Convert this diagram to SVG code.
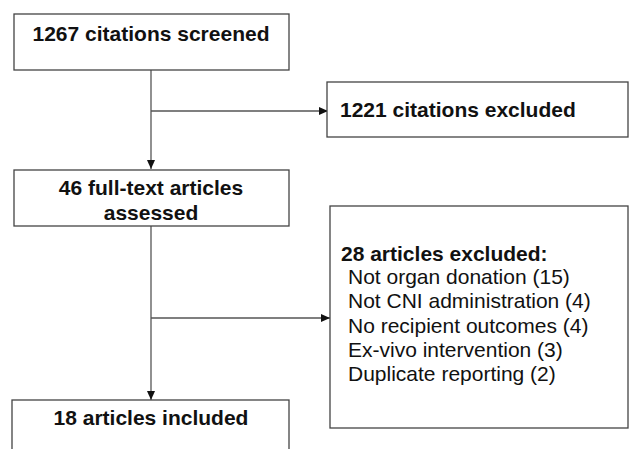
<svg xmlns="http://www.w3.org/2000/svg" width="631" height="449" viewBox="0 0 631 449">
<defs>
<marker id="ah" markerWidth="10" markerHeight="8" refX="9" refY="4" orient="auto" markerUnits="userSpaceOnUse">
<path d="M0,0 L9,4 L0,8 Z" fill="#111"/>
</marker>
<style>
.box{fill:#fff;stroke:#444;stroke-width:1.3}
.ln{fill:none;stroke:#555;stroke-width:1.3}
.b{font-family:"Liberation Sans",Arial,sans-serif;font-size:21px;font-weight:bold;fill:#111}
.r{font-family:"Liberation Sans",Arial,sans-serif;font-size:21px;fill:#111}
</style>
</defs>
<rect width="631" height="449" fill="#fff"/>
<g id="connectors">
<line class="ln" x1="151" y1="70" x2="151" y2="169" marker-end="url(#ah)"/>
<line class="ln" x1="151" y1="111" x2="328" y2="111" marker-end="url(#ah)"/>
<line class="ln" x1="151" y1="226" x2="151" y2="400" marker-end="url(#ah)"/>
<line class="ln" x1="151" y1="318" x2="330" y2="318" marker-end="url(#ah)"/>
</g>
<g id="screened">
<rect class="box" x="14" y="14" width="275" height="56"/>
<text class="b" x="151" y="41" text-anchor="middle">1267 citations screened</text>
</g>
<g id="excluded1">
<rect class="box" x="327" y="82" width="301" height="55"/>
<text class="b" x="340" y="117">1221 citations excluded</text>
</g>
<g id="assessed">
<rect class="box" x="14" y="170" width="275" height="56"/>
<text class="b" x="151" y="195" text-anchor="middle">46 full-text articles</text>
<text class="b" x="151" y="220" text-anchor="middle">assessed</text>
</g>
<g id="excluded2">
<rect class="box" x="330" y="206" width="298" height="222"/>
<text class="b" x="341" y="261">28 articles excluded:</text>
<text class="r" x="348" y="284">Not organ donation (15)</text>
<text class="r" x="348" y="308">Not CNI administration (4)</text>
<text class="r" x="348" y="333">No recipient outcomes (4)</text>
<text class="r" x="348" y="357">Ex-vivo intervention (3)</text>
<text class="r" x="348" y="381">Duplicate reporting (2)</text>
</g>
<g id="included">
<rect class="box" x="12" y="400" width="277" height="60"/>
<text class="b" x="151" y="425" text-anchor="middle">18 articles included</text>
</g>
</svg>
